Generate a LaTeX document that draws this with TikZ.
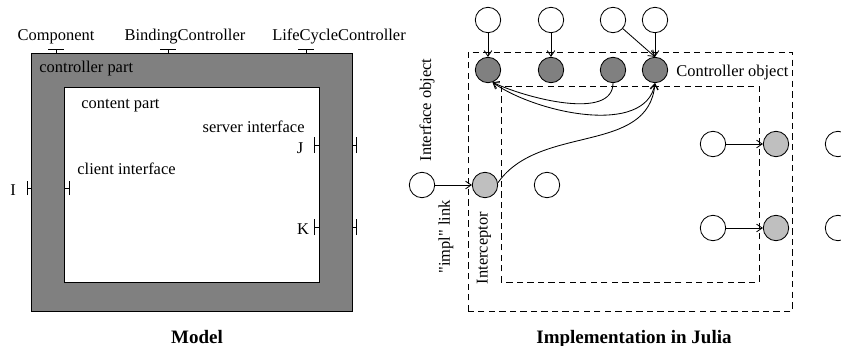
\documentclass[tikz,border=0pt]{standalone}
\usepackage{fontspec}
\setmainfont{Liberation Serif}
\usetikzlibrary{arrows.meta}
\begin{document}
\begin{tikzpicture}[x=0.025cm,y=0.025cm,line width=0.6pt,
 font=\fontsize{11.7}{14}\selectfont,
 >={Straight Barb[length=4pt,width=5.5pt]},
 lbl/.style={inner sep=0pt},
 caption/.style={lbl,anchor=base,font=\fontsize{13.5}{16}\selectfont\bfseries},
 obj/.style={circle,draw,fill=white,inner sep=0pt,minimum size=0.635cm},
 itfobj/.style={obj,fill=gray},
 icpobj/.style={obj,fill=gray!50},
 zone/.style={dash pattern=on 4.5pt off 3pt}]
 \useasboundingbox (0,0) rectangle (841,345);
 % model: controller part around content part
 \draw[fill=gray] (31,34) rectangle (352,292);
 \draw[fill=white] (64,63) rectangle (319,258);
 \foreach \x in {56,168,306} \draw (\x-8,296) -- (\x+8,296) (\x,296) -- (\x,292);
 \draw (27,150) -- (27,164) (27,157) -- (31,157);
 \draw (64,157) -- (69,157) (69,150) -- (69,164);
 \foreach \y in {200,118} {
 \draw (314,\y-8) -- (314,\y+8) (314,\y) -- (319,\y);
 \draw (352,\y) -- (356,\y) (356,\y-8) -- (356,\y+8);
 }
 \node[lbl,anchor=base] (comp) at (56,305) {Component};
 \node[lbl,anchor=base] (bc) at (185,305) {BindingController};
 \node[lbl,anchor=base] (lcc) at (339,305) {LifeCycleController};
 \node[lbl,anchor=west] (ctrl) at (39,276) {controller part};
 \node[lbl,anchor=west] (cont) at (81,239) {content part};
 \node[lbl,anchor=east] (srv) at (305,218) {server interface};
 \node[lbl,anchor=west] (cli) at (77,176) {client interface};
 \node[lbl] (i) at (13,155) {I};
 \node[lbl] (j) at (300,197) {J};
 \node[lbl] (k) at (303,116) {K};
 \node[caption] (model) at (197,2) {Model};
 % implementation
 \draw[zone] (468,34) rectangle (792,293);
 \draw[zone] (501,63) rectangle (759,259);
 \foreach \n/\x in {1/488,2/551,3/613,4/655} {
 \node[obj] (t\n) at (\x,325) {};
 \node[itfobj] (c\n) at (\x,275) {};
 }
 \foreach \n in {1,2,4} \draw[->] (t\n) -- (c\n);
 \draw[->] (t3) -- (c4.north);
 \node[obj] (src) at (422,160) {};
 \node[icpobj] (icp) at (485,160) {};
 \node[obj] (mid) at (547,160) {};
 \draw[->] (src) -- (icp);
 \foreach \n/\y in {1/201,2/117} {
 \node[obj] (w\n) at (713,\y) {};
 \node[icpobj] (g\n) at (776,\y) {};
 \node[obj] (e\n) at (838,\y) {};
 \draw[->] (w\n) -- (g\n);
 }
 \draw[->] (c3.south) to[out=-90,in=-25,looseness=0.8] (c1.-70);
 \draw[<->] (c1.-70) to[out=-35,in=-100,looseness=0.85] (c4.south);
 \draw[->] (icp.10) to[out=55,in=-95] (c4.south);
 \node[lbl,anchor=west] (ctrlobj) at (676,272) {Controller object};
 \node[lbl,rotate=90] (itfo) at (427,235) {Interface object};
 \node[lbl,rotate=90] (impl) at (446,108) {\textquotedbl impl\textquotedbl{} link};
 \node[lbl,rotate=90] (icpt) at (484,97) {Interceptor};
 \node[caption] (julia) at (634,2) {Implementation in Julia};
\end{tikzpicture}
\end{document}
